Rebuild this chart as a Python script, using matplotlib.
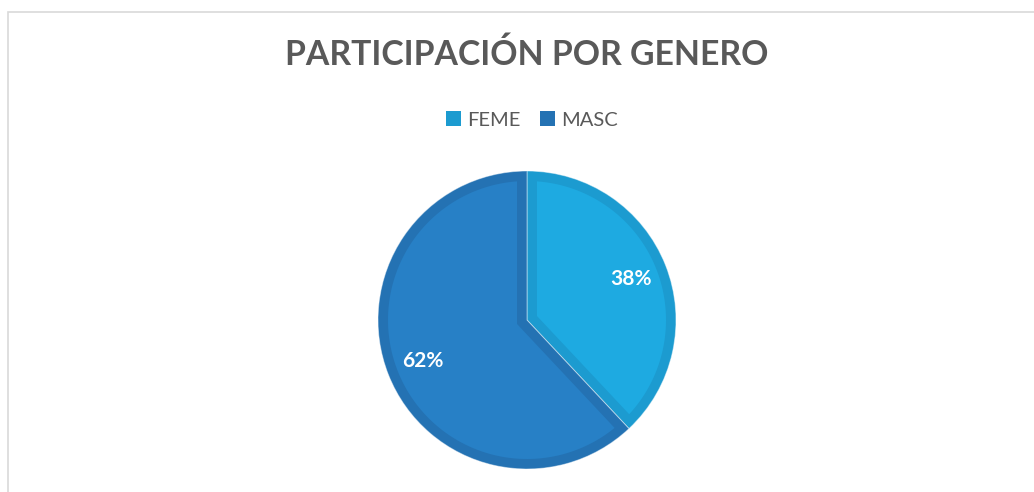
import numpy as np
import matplotlib.pyplot as plt
from matplotlib.patches import Patch, Rectangle, Polygon

# data
labels = ['FEME', 'MASC']
values = [38, 62]
fill_colors = ['#1EAAE1', '#2780C6']
edge_colors = ['#1C9BD0', '#2472B3']

plt.rcParams['font.family'] = ['Lato', 'DejaVu Sans']

W, H = 1034, 492
fig = plt.figure(figsize=(W / 100, H / 100), dpi=100)
fig.patch.set_facecolor('white')

# light frame around the chart area
fig.add_artist(Rectangle((7.5 / W, -0.1), 1.2, 1.1 - 12 / H, transform=fig.transFigure,
                         fill=False, edgecolor='#D9D9D9', linewidth=1.2))

# pie axes, centred at (527, 320) px with radius ~149 px
cx, cy, r = 527, 320, 149
ax = fig.add_axes([(cx - r) / W, (H - cy - r) / H, 2 * r / W, 2 * r / H])
wedges, texts, autotexts = ax.pie(values, colors=edge_colors, startangle=90, counterclock=False,
                                  autopct='%1.0f%%', pctdistance=0.75, radius=1,
                                  wedgeprops=dict(linewidth=0.7, edgecolor=(1, 1, 1, 0.45)))


def inner_shape(t1, t2, d, R=1.0):
    # slice shrunk by a band of width d (mitred corner at the centre)
    half = np.radians(t2 - t1) / 2
    mid = np.radians(t1) + half
    apex = d / np.sin(half) * np.array([np.cos(mid), np.sin(mid)])
    da = np.degrees(np.arcsin(d / (R - d)))
    phi = np.radians(np.linspace(t1 + da, t2 - da, 200))
    arc = np.column_stack([(R - d) * np.cos(phi), (R - d) * np.sin(phi)])
    return np.vstack([apex, arc])


band = 10 / r
for w, fc in zip(wedges, fill_colors):
    ax.add_patch(Polygon(inner_shape(w.theta1, w.theta2, band), closed=True,
                         facecolor=fc, edgecolor='none', zorder=w.get_zorder() + 0.1))
for t in autotexts:
    t.set_color('white')
    t.set_fontsize(15)
    t.set_fontweight('bold')
    t.set_zorder(5)

ax.set_xlim(-1, 1)
ax.set_ylim(-1, 1)
ax.set_aspect('equal')
ax.axis('off')

fig.text(527 / W, 1 - 55 / H, 'PARTICIPACIÓN POR GENERO', ha='center', va='center',
         fontsize=24.3, fontweight='bold', color='#595959')

handles = [Patch(facecolor=c, edgecolor='none') for c in edge_colors]
fig.legend(handles, labels, loc='center', bbox_to_anchor=(532 / W, 1 - 120 / H), ncol=2,
           frameon=False, fontsize=14.5, labelcolor='#595959', handlelength=0.75,
           handleheight=0.75, handletextpad=0.3, columnspacing=1.0)

fig.savefig('out.png', dpi=100)
